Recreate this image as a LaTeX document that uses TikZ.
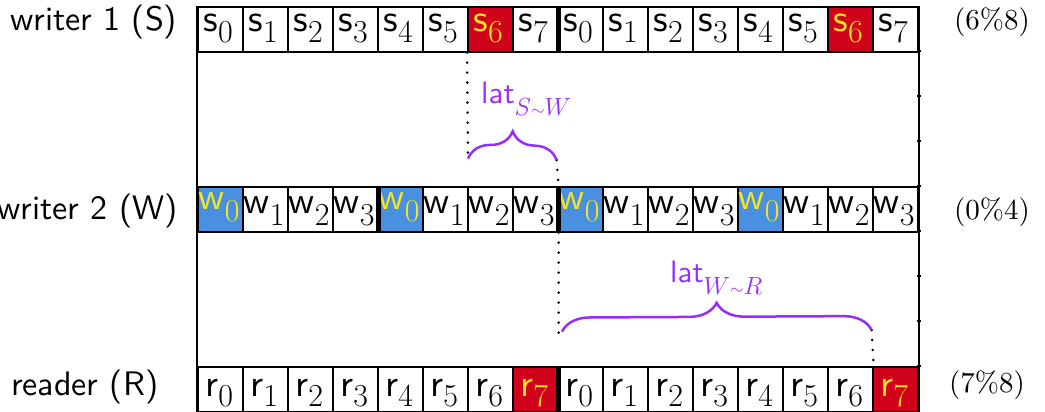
\documentclass[tikz,border=0pt]{standalone}
\usepackage{fontspec}
\setsansfont{lmsans10-regular.otf}
\newfontfamily\phasefont{lmroman10-regular.otf}
\usetikzlibrary{calc,decorations.pathreplacing}

\definecolor{cellred}{HTML}{D0021B}
\definecolor{cellblue}{HTML}{4A90E2}
\definecolor{markyellow}{HTML}{F8E71C}
\definecolor{latviolet}{RGB}{150,45,250}

% index digit hanging below the letter
\newcommand\lowdigit[2]{\raisebox{-#1pt}{\fontsize{32}{32}\selectfont\rmfamily #2}}
% small tilde between the two parties of a latency
\newcommand\pairsub[2]{\raisebox{-12pt}{\fontsize{25}{25}\selectfont$#1$\fontsize{16}{16}\selectfont$\sim$\fontsize{25}{25}\selectfont$#2$}}

\tikzset{
  cellbox/.style={draw=black, line width=1.6pt, minimum width=45pt, minimum height=45pt,
    inner sep=0pt, anchor=north west},
  celltext/.style={anchor=base, inner sep=0pt, font=\fontsize{38}{42}\sffamily},
  rowlabel/.style={inner sep=0pt, font=\fontsize{34}{40}\sffamily},
  modlabel/.style={inner sep=0pt, font=\fontsize{29}{34}\phasefont},
  latlabel/.style={anchor=base west, inner sep=0pt, text=latviolet, font=\fontsize{31}{36}\sffamily},
  frameline/.style={line width=2pt},
  blocksep/.style={line width=5pt},
  tickmark/.style={line width=1.2pt},
  lagbrace/.style={draw=latviolet, line width=2.5pt, decorate,
    decoration={brace, amplitude=28pt}},
  lagline/.style={line width=2.8pt, line cap=round, dash pattern=on 0pt off 10pt},
}

\begin{document}
\begin{tikzpicture}[x=1pt, y=-1pt]
\useasboundingbox (0,0) rectangle (1045,412);

% writer 1: period 8, slot 6 marked
\foreach \i in {0,...,15} {
  \pgfmathtruncatemacro\k{mod(\i,8)}
  \def\fc{white}\def\tc{black}
  \ifnum\k=6 \def\fc{cellred}\def\tc{markyellow}\fi
  \node[cellbox, fill=\fc] (s\i) at (197+45*\i, 6) {};
  \node[celltext, text=\tc] (s\i t) at ($(s\i.north)+(-2,26)$) {s\lowdigit{11}{\k}};
}

% writer 2: period 4, slot 0 marked
\foreach \i in {0,...,15} {
  \pgfmathtruncatemacro\k{mod(\i,4)}
  \def\fc{white}\def\tc{black}\def\dy{27}
  \ifnum\k=0 \def\fc{cellblue}\def\tc{markyellow}\def\dy{23}\fi
  \node[cellbox, fill=\fc] (w\i) at (197+45*\i, 186) {};
  \node[celltext, text=\tc] (w\i t) at ($(w\i.north)+(-1,\dy)$) {w\lowdigit{12}{\k}};
}

% reader: period 8, slot 7 marked
\foreach \i in {0,...,15} {
  \pgfmathtruncatemacro\k{mod(\i,8)}
  \def\fc{white}\def\tc{black}
  \ifnum\k=7 \def\fc{cellred}\def\tc{markyellow}\fi
  \node[cellbox, fill=\fc] (r\i) at (197+45*\i, 366) {};
  \node[celltext, text=\tc] (r\i t) at ($(r\i.north)+(-1,30)$) {r\lowdigit{10}{\k}};
}

% outer frame
\draw[frameline] (s0.north west) -- (r0.south west);
\draw[frameline] (s15.north east) -- (r15.south east);
\foreach \yy in {51,96,141,186,231,276,321,366}
  \draw[tickmark] (917,\yy) -- ++(4,0);

% period boundaries
\draw[blocksep] (s7.north east) -- (s7.south east);
\draw[blocksep] (w3.north east) -- (w3.south east);
\draw[blocksep] (w7.north east) -- (w7.south east);
\draw[blocksep] (r7.north east) -- (r7.south east);

% row names and phases
\node[rowlabel, anchor=west] (nameS) at (10,22) {writer 1 (S)};
\node[rowlabel, anchor=east] (nameW) at (178,211) {writer 2 (W)};
\node[rowlabel, anchor=west] (nameR) at (11,387) {reader (R)};
\node[modlabel] (modS) at (992,22) {(6\%8)};
\node[modlabel] (modW) at (992,212) {(0\%4)};
\node[modlabel] (modR) at (987,385) {(7\%8)};

% latencies
\coordinate (a1) at ($(s6.south west)+(1,106)$);
\coordinate (b1) at ($(w7.north east)+(-2,-26)$);
\coordinate (a2) at ($(w8.south west)+(5,99)$);
\coordinate (b2) at ($(r14.north east)+(-2,-36)$);
\draw[lagline] (s6.south west) -- (a1);
\draw[lagline] (b1) -- (w7.north east);
\draw[lagline] (w7.south east) -- ($(w7.south east)+(0,101)$);
\draw[lagline] (b2) -- (r14.north east);
\draw[lagbrace] (a1) -- (b1);
\draw[lagbrace] (a2) -- (b2);
\node[latlabel] (lat1) at (481,103) {lat\pairsub{S}{W}};
\node[latlabel] (lat2) at (670,282) {lat\pairsub{W}{R}};
\end{tikzpicture}
\end{document}
